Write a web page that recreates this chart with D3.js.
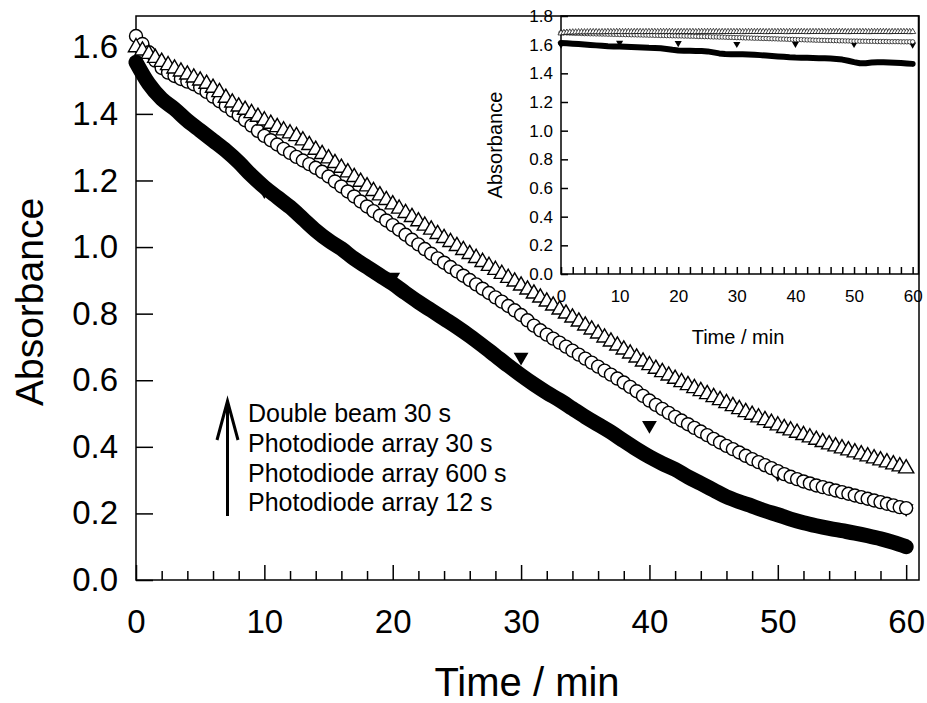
<!DOCTYPE html>
<html>
<head>
<meta charset="utf-8">
<script src="https://cdn.jsdelivr.net/npm/d3@7"></script>
<style>
  body { margin: 0; background: #fff; }
  svg { display: block; font-family: "Liberation Sans", Arial, sans-serif; }
  .axis path.domain { display: none; }
  .axis line { stroke: #000; stroke-width: 1.5; }
  .axis text { fill: #000; }
</style>
</head>
<body>
<div id="chart"></div>
<script>
// half-minute sampling (30 s) for the two open-marker series
var timesHalf = d3.range(0, 60.25, 0.5);
// one-minute sampling for the 12 s series band
var timesMin = d3.range(0, 61, 1);
var times600 = [0, 10, 20, 30, 40, 50, 60];

// Double beam 30 s (open up-triangles)
var doubleBeam = [
  1.600, 1.590, 1.580, 1.568, 1.556, 1.546, 1.536, 1.527, 1.518, 1.509,
  1.500, 1.490, 1.478, 1.465, 1.448, 1.434, 1.422, 1.412, 1.402, 1.391,
  1.380, 1.370, 1.360, 1.350, 1.341, 1.333, 1.320, 1.306, 1.292, 1.279,
  1.266, 1.252, 1.238, 1.224, 1.210, 1.196, 1.182, 1.168, 1.155, 1.141,
  1.128, 1.115, 1.102, 1.090, 1.077, 1.064, 1.052, 1.039, 1.027, 1.015,
  1.003, 0.991, 0.979, 0.967, 0.955, 0.943, 0.931, 0.919, 0.907, 0.896,
  0.884, 0.872, 0.860, 0.848, 0.836, 0.824, 0.812, 0.800, 0.788, 0.776,
  0.764, 0.752, 0.740, 0.728, 0.716, 0.704, 0.692, 0.680, 0.668, 0.656,
  0.645, 0.634, 0.624, 0.614, 0.604, 0.594, 0.585, 0.576, 0.567, 0.558,
  0.549, 0.540, 0.531, 0.522, 0.513, 0.504, 0.496, 0.488, 0.480, 0.472,
  0.464, 0.456, 0.449, 0.442, 0.435, 0.428, 0.421, 0.414, 0.407, 0.401,
  0.395, 0.389, 0.383, 0.377, 0.371, 0.365, 0.359, 0.353, 0.347, 0.341,
  0.335
];

// Photodiode array 30 s (open circles)
var pda30 = [
  1.634, 1.610, 1.585, 1.560, 1.538, 1.524, 1.514, 1.505, 1.497, 1.489,
  1.479, 1.466, 1.452, 1.438, 1.424, 1.410, 1.396, 1.381, 1.365, 1.349,
  1.334, 1.321, 1.308, 1.295, 1.283, 1.271, 1.260, 1.249, 1.238, 1.226,
  1.212, 1.197, 1.182, 1.167, 1.152, 1.137, 1.122, 1.108, 1.094, 1.080,
  1.066, 1.052, 1.037, 1.022, 1.008, 0.994, 0.980, 0.966, 0.953, 0.940,
  0.927, 0.914, 0.901, 0.888, 0.875, 0.862, 0.849, 0.836, 0.823, 0.810,
  0.796, 0.780, 0.764, 0.750, 0.737, 0.725, 0.713, 0.701, 0.689, 0.677,
  0.665, 0.653, 0.641, 0.629, 0.617, 0.605, 0.593, 0.580, 0.567, 0.553,
  0.539, 0.526, 0.514, 0.502, 0.490, 0.479, 0.468, 0.457, 0.446, 0.435,
  0.424, 0.413, 0.403, 0.393, 0.383, 0.373, 0.363, 0.354, 0.345, 0.336,
  0.327, 0.318, 0.310, 0.303, 0.296, 0.290, 0.284, 0.279, 0.274, 0.269,
  0.264, 0.259, 0.254, 0.249, 0.244, 0.239, 0.234, 0.229, 0.224, 0.219,
  0.216
];

// Photodiode array 12 s (filled band), read once per minute
var pda12 = [
  1.555, 1.490, 1.445, 1.415, 1.380, 1.350, 1.320, 1.290, 1.255, 1.215,
  1.180, 1.150, 1.120, 1.085, 1.050, 1.020, 0.995, 0.965, 0.940, 0.915,
  0.890, 0.862, 0.835, 0.810, 0.785, 0.760, 0.733, 0.704, 0.674, 0.644,
  0.615, 0.588, 0.563, 0.540, 0.515, 0.490, 0.467, 0.444, 0.418, 0.393,
  0.370, 0.350, 0.332, 0.310, 0.290, 0.270, 0.250, 0.235, 0.222, 0.208,
  0.196, 0.183, 0.172, 0.163, 0.155, 0.148, 0.141, 0.133, 0.124, 0.113,
  0.100
];

// Photodiode array 600 s (filled down-triangles)
var pda600 = [1.540, 1.170, 0.910, 0.670, 0.465, 0.320, 0.215];

// inset values
var insetDoubleBeam = [
  1.680, 1.683, 1.685, 1.686, 1.687, 1.687, 1.688, 1.688, 1.688, 1.688,
  1.689, 1.689, 1.689, 1.688, 1.689, 1.689, 1.690, 1.689, 1.689, 1.690,
  1.690, 1.689, 1.690, 1.690, 1.689, 1.690, 1.690, 1.690, 1.689, 1.690,
  1.690, 1.690, 1.690, 1.689, 1.690, 1.690, 1.690, 1.690, 1.690, 1.689,
  1.690, 1.690, 1.690, 1.690, 1.690, 1.690, 1.689, 1.690, 1.690, 1.690,
  1.690, 1.690, 1.690, 1.690, 1.689, 1.690, 1.690, 1.690, 1.690, 1.690,
  1.690, 1.690, 1.689, 1.690, 1.690, 1.690, 1.690, 1.690, 1.690, 1.690,
  1.689, 1.690, 1.690, 1.690, 1.690, 1.690, 1.690, 1.689, 1.690, 1.690,
  1.690, 1.690, 1.690, 1.690, 1.689, 1.690, 1.690, 1.690, 1.690, 1.690,
  1.690, 1.689, 1.690, 1.690, 1.690, 1.690, 1.690, 1.690, 1.689, 1.690,
  1.690, 1.690, 1.690, 1.690, 1.690, 1.689, 1.690, 1.690, 1.690, 1.690,
  1.690, 1.690, 1.689, 1.690, 1.690, 1.690, 1.690, 1.690, 1.690, 1.689,
  1.690
];
var insetPda30 = [
  1.684, 1.683, 1.682, 1.681, 1.680, 1.679, 1.679, 1.678, 1.677, 1.677,
  1.676, 1.676, 1.675, 1.675, 1.674, 1.674, 1.673, 1.673, 1.672, 1.672,
  1.671, 1.671, 1.670, 1.670, 1.669, 1.669, 1.668, 1.668, 1.667, 1.667,
  1.666, 1.666, 1.665, 1.665, 1.664, 1.664, 1.663, 1.663, 1.662, 1.662,
  1.661, 1.661, 1.660, 1.660, 1.659, 1.659, 1.658, 1.657, 1.657, 1.656,
  1.656, 1.655, 1.654, 1.654, 1.653, 1.653, 1.652, 1.651, 1.651, 1.650,
  1.649, 1.649, 1.648, 1.647, 1.647, 1.646, 1.645, 1.645, 1.644, 1.643,
  1.643, 1.642, 1.641, 1.641, 1.640, 1.639, 1.639, 1.638, 1.637, 1.637,
  1.636, 1.635, 1.635, 1.634, 1.633, 1.633, 1.632, 1.631, 1.631, 1.630,
  1.630, 1.629, 1.629, 1.628, 1.628, 1.627, 1.627, 1.626, 1.626, 1.625,
  1.625, 1.625, 1.624, 1.624, 1.624, 1.623, 1.623, 1.623, 1.622, 1.622,
  1.622, 1.622, 1.621, 1.621, 1.621, 1.621, 1.620, 1.620, 1.620, 1.620,
  1.620
];
var insetPda12 = [
  1.612, 1.610, 1.607, 1.604, 1.601, 1.598, 1.595, 1.592, 1.589, 1.588,
  1.587, 1.586, 1.584, 1.582, 1.580, 1.578, 1.577, 1.575, 1.570, 1.564,
  1.560, 1.558, 1.557, 1.556, 1.555, 1.553, 1.546, 1.539, 1.535, 1.534,
  1.534, 1.533, 1.532, 1.530, 1.527, 1.524, 1.521, 1.518, 1.515, 1.512,
  1.510, 1.509, 1.508, 1.507, 1.506, 1.505, 1.503, 1.500, 1.496, 1.488,
  1.478, 1.470, 1.471, 1.475, 1.477, 1.477, 1.476, 1.474, 1.472, 1.469,
  1.466
];
var insetPda600 = [1.600, 1.613, 1.611, 1.605, 1.606, 1.605, 1.600];

var legendLines = ["Double beam 30 s", "Photodiode array 30 s", "Photodiode array 600 s", "Photodiode array 12 s"];
var xMajor = [0, 10, 20, 30, 40, 50, 60];
var xMinor = d3.range(2, 60, 2).filter(d => d % 10 !== 0);
var yTicksMain = [0, 0.2, 0.4, 0.6, 0.8, 1.0, 1.2, 1.4, 1.6];
var yTicksInset = [0, 0.2, 0.4, 0.6, 0.8, 1.0, 1.2, 1.4, 1.6, 1.8];

var svg = d3.select("#chart").append("svg")
    .attr("width", 927)
    .attr("height", 703);

// main panel
var x = d3.scaleLinear().domain([0, 61]).range([136, 919]);
var y = d3.scaleLinear().domain([0, 1.694]).range([580, 16]);

svg.append("rect")
    .attr("x", 136).attr("y", 16)
    .attr("width", 919 - 136).attr("height", 580 - 16)
    .attr("fill", "none").attr("stroke", "#000").attr("stroke-width", 1.5);

svg.append("g").attr("class", "axis")
    .attr("transform", "translate(0,580)")
    .style("font-size", "33px")
    .call(d3.axisBottom(x).tickValues(xMajor).tickSize(-15).tickPadding(30).tickFormat(d3.format("d")));
svg.append("g").attr("class", "axis")
    .attr("transform", "translate(0,580)")
    .call(d3.axisBottom(x).tickValues(xMinor).tickSize(-9).tickFormat(""));
svg.append("g").attr("class", "axis")
    .attr("transform", "translate(136,0)")
    .style("font-size", "33px")
    .call(d3.axisLeft(y).tickValues(yTicksMain).tickSize(-17).tickPadding(18).tickFormat(d3.format(".1f")));

svg.append("text")
    .attr("transform", "translate(43,302) rotate(-90)")
    .attr("text-anchor", "middle")
    .style("font-size", "39px")
    .text("Absorbance");
svg.append("text")
    .attr("x", 527).attr("y", 696)
    .attr("text-anchor", "middle")
    .style("font-size", "40px")
    .text("Time / min");

// 12 s band
var line = d3.line().x((d, i) => x(timesMin[i])).y(d => y(d)).curve(d3.curveMonotoneX);
svg.append("path")
    .attr("d", line(pda12))
    .attr("fill", "none").attr("stroke", "#000")
    .attr("stroke-width", 15).attr("stroke-linecap", "round").attr("stroke-linejoin", "round");

var downTri = d3.symbol().type(d3.symbolTriangle).size(95);
var upTri = d3.symbol().type(d3.symbolTriangle).size(100);

// 600 s
svg.append("g").selectAll("path")
    .data(pda600).enter().append("path")
    .attr("d", downTri)
    .attr("transform", (d, i) => "translate(" + x(times600[i]) + "," + y(d) + ") rotate(180)")
    .attr("fill", "#000");

// 30 s photodiode array
svg.append("g").selectAll("circle")
    .data(pda30).enter().append("circle")
    .attr("cx", (d, i) => x(timesHalf[i]))
    .attr("cy", d => y(d))
    .attr("r", 6.5)
    .attr("fill", "#fff").attr("stroke", "#000").attr("stroke-width", 1.4);

// double beam
svg.append("g").selectAll("path")
    .data(doubleBeam).enter().append("path")
    .attr("d", upTri)
    .attr("transform", (d, i) => "translate(" + x(timesHalf[i]) + "," + y(d) + ")")
    .attr("fill", "#fff").attr("stroke", "#000").attr("stroke-width", 1.4);

// legend
var legend = svg.append("g").style("font-size", "25px");
legend.selectAll("text")
    .data(legendLines).enter().append("text")
    .attr("x", 248)
    .attr("y", (d, i) => 422 + i * 29.8)
    .text(d => d);
legend.append("path")
    .attr("d", "M227.5,516 L227.5,401 M217,440 L227.5,401 L238,440")
    .attr("fill", "none").attr("stroke", "#000").attr("stroke-width", 3);

// inset panel
var xi = d3.scaleLinear().domain([0, 61]).range([561, 918.5]);
var yi = d3.scaleLinear().domain([0, 1.8]).range([274, 16]);

svg.append("rect")
    .attr("x", 561).attr("y", 16)
    .attr("width", 918.5 - 561).attr("height", 274 - 16)
    .attr("fill", "#fff").attr("stroke", "#000").attr("stroke-width", 1.5);

svg.append("g").attr("class", "axis")
    .attr("transform", "translate(0,274)")
    .style("font-size", "17px")
    .call(d3.axisBottom(xi).tickValues(xMajor).tickSize(-7).tickPadding(16).tickFormat(d3.format("d")));
svg.append("g").attr("class", "axis")
    .attr("transform", "translate(0,274)")
    .call(d3.axisBottom(xi).tickValues(xMinor).tickSize(-7).tickFormat(""));
svg.append("g").attr("class", "axis")
    .attr("transform", "translate(561,0)")
    .style("font-size", "17px")
    .call(d3.axisLeft(yi).tickValues(yTicksInset).tickSize(-7).tickPadding(8).tickFormat(d3.format(".1f")));

svg.append("text")
    .attr("transform", "translate(502,145) rotate(-90)")
    .attr("text-anchor", "middle")
    .style("font-size", "20px")
    .text("Absorbance");
svg.append("text")
    .attr("x", 738).attr("y", 344)
    .attr("text-anchor", "middle")
    .style("font-size", "20px")
    .text("Time / min");

var lineInset = d3.line().x((d, i) => xi(timesMin[i])).y(d => yi(d));
svg.append("path")
    .attr("d", lineInset(insetPda12))
    .attr("fill", "none").attr("stroke", "#000")
    .attr("stroke-width", 6).attr("stroke-linecap", "round").attr("stroke-linejoin", "round");

svg.append("g").selectAll("path")
    .data(insetPda600).enter().append("path")
    .attr("d", d3.symbol().type(d3.symbolTriangle).size(22))
    .attr("transform", (d, i) => "translate(" + xi(times600[i]) + "," + yi(d) + ") rotate(180)")
    .attr("fill", "#000");

svg.append("g").selectAll("circle")
    .data(insetPda30).enter().append("circle")
    .attr("cx", (d, i) => xi(timesHalf[i]))
    .attr("cy", d => yi(d))
    .attr("r", 2.2)
    .attr("fill", "#fff").attr("stroke", "#000").attr("stroke-width", 0.7);

svg.append("g").selectAll("path")
    .data(insetDoubleBeam).enter().append("path")
    .attr("d", d3.symbol().type(d3.symbolTriangle).size(16))
    .attr("transform", (d, i) => "translate(" + xi(timesHalf[i]) + "," + yi(d) + ")")
    .attr("fill", "#fff").attr("stroke", "#000").attr("stroke-width", 0.7);
</script>
</body>
</html>
